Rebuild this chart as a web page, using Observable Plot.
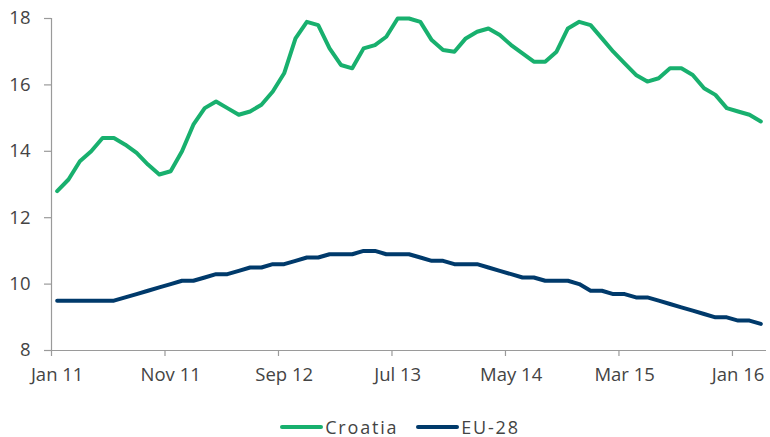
<!DOCTYPE html>
<html>
<head>
<meta charset="utf-8">
<script src="https://cdn.jsdelivr.net/npm/d3@7"></script>
<script src="https://cdn.jsdelivr.net/npm/@observablehq/plot@0.6"></script>
<style>
  html, body { margin: 0; padding: 0; background: #fff; }
  #chart { width: 770px; font-family: "Open Sans", sans-serif; }
  .legend { display: flex; justify-content: center; align-items: center; height: 37px; padding-left: 30px; font-family: "Open Sans", sans-serif; font-size: 18px; letter-spacing: 1.8px; color: #444; margin-top: 8px; }
  .legend .item { display: flex; align-items: center; margin: 0 9px; }
  .legend .sw { width: 43px; height: 4px; border-radius: 2px; margin-right: 2px; }
</style>
</head>
<body>
<div id="chart"></div>
<script>
// Monthly, Jan 2011 .. Mar 2016 (63 months)
const croatia = [12.8, 13.15, 13.7, 14.0, 14.4, 14.4, 14.2, 13.95, 13.6, 13.3,
  13.4, 14.0, 14.8, 15.3, 15.5, 15.3, 15.1, 15.2, 15.4, 15.8,
  16.35, 17.4, 17.9, 17.8, 17.1, 16.6, 16.5, 17.1, 17.2, 17.45,
  18.0, 18.0, 17.9, 17.35, 17.05, 17.0, 17.4, 17.6, 17.7, 17.5,
  17.2, 16.95, 16.7, 16.7, 17.0, 17.7, 17.9, 17.8, 17.4, 17.0,
  16.65, 16.3, 16.1, 16.2, 16.5, 16.5, 16.3, 15.9, 15.7, 15.3,
  15.2, 15.1, 14.9];
const eu28 = [9.5, 9.5, 9.5, 9.5, 9.5, 9.5, 9.6, 9.7, 9.8, 9.9,
  10.0, 10.1, 10.1, 10.2, 10.3, 10.3, 10.4, 10.5, 10.5, 10.6,
  10.6, 10.7, 10.8, 10.8, 10.9, 10.9, 10.9, 11.0, 11.0, 10.9,
  10.9, 10.9, 10.8, 10.7, 10.7, 10.6, 10.6, 10.6, 10.5, 10.4,
  10.3, 10.2, 10.2, 10.1, 10.1, 10.1, 10.0, 9.8, 9.8, 9.7,
  9.7, 9.6, 9.6, 9.5, 9.4, 9.3, 9.2, 9.1, 9.0, 9.0,
  8.9, 8.9, 8.8];
const tickLabels = ["Jan 11", "Nov 11", "Sep 12", "Jul 13", "May 14", "Mar 15", "Jan 16"];
const tickMonths = [0, 10, 20, 30, 40, 50, 60];
const yTicks = [8, 10, 12, 14, 16, 18];
const seriesNames = ["Croatia", "EU-28"];
const colors = ["#18b06e", "#003a6b"];

const data = [];
croatia.forEach((v, i) => data.push({i, v, s: seriesNames[0]}));
eu28.forEach((v, i) => data.push({i, v, s: seriesNames[1]}));
const n = croatia.length;
const boundaries = tickMonths.map(m => m - 0.5);

const axisColor = "#9a9a9a";
const textColor = "#444";

const plot = Plot.plot({
  width: 770,
  height: 400,
  marginLeft: 51,
  marginRight: 4,
  marginTop: 18,
  marginBottom: 50,
  style: {fontFamily: "Open Sans, sans-serif", fontSize: "17px", color: textColor, background: "#fff"},
  x: {domain: [-0.5, n - 0.5]},
  y: {domain: [8, 18]},
  color: {domain: seriesNames, range: colors},
  marks: [
    Plot.ruleY([8], {stroke: axisColor, strokeWidth: 1.2}),
    Plot.ruleX([-0.5], {y1: 8, y2: 18, stroke: axisColor, strokeWidth: 1.2}),
    Plot.axisX({ticks: boundaries, tickFormat: () => "", tickSize: 6, stroke: axisColor, strokeWidth: 1.2, label: null}),
    Plot.axisX({ticks: tickMonths, tickFormat: d => tickLabels[tickMonths.indexOf(d)], tickSize: 0, tickPadding: 17, fill: textColor, fontSize: 18.5, label: null}),
    Plot.axisY({ticks: yTicks, tickSize: 7, tickPadding: 14, stroke: axisColor, strokeWidth: 1.2, fill: textColor, fontSize: 18.5, label: null}),
    Plot.line(data, {x: "i", y: "v", z: "s", stroke: "s", strokeWidth: 4, strokeLinejoin: "round", strokeLinecap: "round"})
  ]
});
document.getElementById("chart").appendChild(plot);

const legend = document.createElement("div");
legend.className = "legend";
seriesNames.forEach((name, k) => {
  const item = document.createElement("div");
  item.className = "item";
  const sw = document.createElement("div");
  sw.className = "sw";
  sw.style.background = colors[k];
  const label = document.createElement("span");
  label.textContent = name;
  item.appendChild(sw);
  item.appendChild(label);
  legend.appendChild(item);
});
document.getElementById("chart").appendChild(legend);
</script>
</body>
</html>
